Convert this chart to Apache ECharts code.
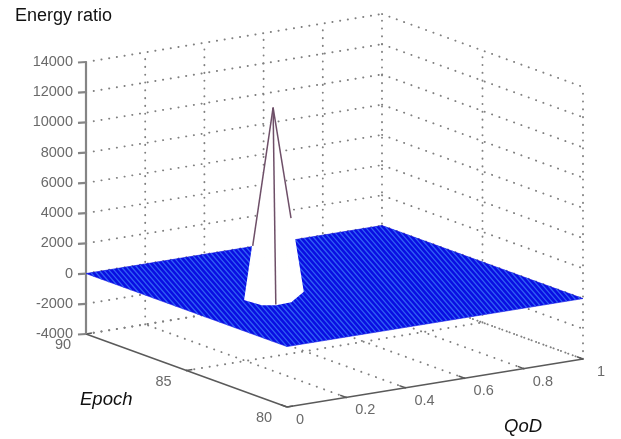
<!DOCTYPE html>
<html>
<head>
<meta charset="utf-8">
<style>html,body{margin:0;padding:0;background:#fff}#c{width:621px;height:439px;filter:blur(0.45px)}</style>
<script src="https://cdn.jsdelivr.net/npm/echarts@6/dist/echarts.min.js"></script>
</head>
<body>
<div id="c"></div>
<script>
// ---- data ----
var energyTicks = [-4000,-2000,0,2000,4000,6000,8000,10000,12000,14000];
var qodTicks = [0,0.2,0.4,0.6,0.8,1];
var qodTickLabels = ['0','0.2','0.4','0.6','0.8','1'];
var epochTicks = [80,85,90];
var epochTickLabels = ['80','85','90'];
// facet diagonals of the flat surface mesh: QoD where each one meets the Epoch 80 edge line
var meshQod = [-0.405,-0.39,-0.375,-0.36,-0.345,-0.33,-0.315,-0.3,-0.285,-0.27,-0.255,-0.24,-0.225,-0.21,-0.195,-0.18,-0.165,-0.15,-0.135,-0.12,-0.105,-0.09,-0.075,-0.06,-0.045,-0.03,-0.015,0,0.015,0.03,0.045,0.06,0.075,0.09,0.105,0.12,0.135,0.15,0.165,0.18,0.195,0.21,0.225,0.24,0.255,0.27,0.285,0.3,0.315,0.33,0.345,0.36,0.375,0.39,0.405,0.42,0.435,0.45,0.465,0.48,0.495,0.51,0.525,0.54,0.555,0.57,0.585,0.6,0.615,0.63,0.645,0.66,0.675,0.69,0.705,0.72,0.735,0.75,0.765,0.78,0.795,0.81,0.825,0.84,0.855,0.87,0.885,0.9,0.915,0.93,0.945,0.96,0.975,0.99];
var meshSkew = 0.407; // QoD change per full Epoch span along a facet diagonal
var surfaceEnergy = 0;
// spike: QoD, Epoch, Energy ratio
var peak = [0.334,85.61,12040];
var spikeBaseQod = [0.204,0.212,0.244,0.299,0.391];
var spikeBaseEpoch = [85.1,84.36,84.15,84.2,84.96];
var spikeBaseEnergy = [0,0,0,0,0];
var spikeEdgeQod = [0.240,0.244,0.368];
var spikeEdgeEpoch = [85.24,84.15,85.22];
var spikeEdgeEnergy = [3371,0,4816];

// ---- view projection of the 3D box onto the page ----
var qMin=0,qMax=1,eMin=80,eMax=90,zMin=-4000,zMax=14000;
var O=[287,407],QV=[296,-48],EV=[-201,-73],ZH=272;
function proj(q,e,z){
  var a=(q-qMin)/(qMax-qMin),b=(e-eMin)/(eMax-eMin),c=(z-zMin)/(zMax-zMin);
  return [O[0]+a*QV[0]+b*EV[0],O[1]+a*QV[1]+b*EV[1]-c*ZH];
}

// dotted box grid
var gridSegs=[];
energyTicks.forEach(function(z){
  gridSegs.push([proj(qMin,eMax,z),proj(qMax,eMax,z)]);
  gridSegs.push([proj(qMax,eMax,z),proj(qMax,eMin,z)]);
});
qodTicks.forEach(function(q){
  if(q>qMin) gridSegs.push([proj(q,eMax,zMin),proj(q,eMax,zMax)]);
  if(q>qMin) gridSegs.push([proj(q,eMin,zMin),proj(q,eMax,zMin)]);
});
epochTicks.forEach(function(e){
  if(e<eMax) gridSegs.push([proj(qMax,e,zMin),proj(qMax,e,zMax)]);
  if(e>eMin) gridSegs.push([proj(qMin,e,zMin),proj(qMax,e,zMin)]);
});

// axes lines + ticks
var zAxisSeg=[[proj(qMin,eMax,zMin),proj(qMin,eMax,zMax)]];
var floorAxisSegs=[[proj(qMin,eMax,zMin),proj(qMin,eMin,zMin)],[proj(qMin,eMin,zMin),proj(qMax,eMin,zMin)]];
qodTicks.forEach(function(q){floorAxisSegs.push([proj(q,eMin,zMin),proj(q,eMin+0.3,zMin)]);});
epochTicks.forEach(function(e){floorAxisSegs.push([proj(qMin,e,zMin),proj(qMin+0.02,e,zMin)]);});
energyTicks.forEach(function(z){var p=proj(qMin,eMax,z);zAxisSeg.push([[p[0]-8,p[1]+0.5],p]);});

// surface
var surfacePoly=[[proj(qMin,eMin,surfaceEnergy),proj(qMax,eMin,surfaceEnergy),proj(qMax,eMax,surfaceEnergy),proj(qMin,eMax,surfaceEnergy)]];
var meshSegs=meshQod.map(function(c){
  // clip each diagonal to the surface rectangle
  var b0=Math.max(0,-c/meshSkew), b1=Math.min(1,(1-c)/meshSkew);
  return [proj(c+b0*meshSkew,eMin+b0*(eMax-eMin),surfaceEnergy),proj(c+b1*meshSkew,eMin+b1*(eMax-eMin),surfaceEnergy)];
});

// spike faces
var apex=proj(peak[0],peak[1],peak[2]);
var spikeFaces=[];
for(var i=0;i<spikeBaseQod.length-1;i++){
  spikeFaces.push([apex,proj(spikeBaseQod[i],spikeBaseEpoch[i],spikeBaseEnergy[i]),proj(spikeBaseQod[i+1],spikeBaseEpoch[i+1],spikeBaseEnergy[i+1])]);
}
var spikeEdges=spikeEdgeQod.map(function(q,i){return [apex,proj(q,spikeEdgeEpoch[i],spikeEdgeEnergy[i])];});

// text
var texts=[];
energyTicks.forEach(function(z){var p=proj(qMin,eMax,z);texts.push({x:p[0]-13,y:p[1],t:String(z),a:'right',c:'#6a6a6a',s:14.5});});
epochTicks.forEach(function(e,i){var p=proj(qMin,e,zMin);texts.push({x:p[0]-23,y:p[1]+11,t:epochTickLabels[i],a:'center',c:'#6a6a6a',s:14.5});});
qodTicks.forEach(function(q,i){var p=proj(q,eMin,zMin);texts.push({x:p[0]+9+(i==5?5:0),y:p[1]+13,t:qodTickLabels[i],a:'left',c:'#6a6a6a',s:14.5});});
texts.push({x:15,y:16,t:'Energy ratio',a:'left',c:'#111',s:18});
texts.push({x:80,y:400,t:'Epoch',a:'left',c:'#111',s:18.5,i:1});
texts.push({x:504,y:427,t:'QoD',a:'left',c:'#111',s:18.5,i:1});

function segSeries(name,segs,style,z){
  return {name:name,type:'custom',coordinateSystem:'cartesian2d',silent:true,z:z,animation:false,clip:false,
    data:segs.map(function(s,i){return [s[0][0],s[0][1],s[1][0],s[1][1]];}),
    renderItem:function(p,api){
      var a=api.coord([api.value(0),api.value(1)]),b=api.coord([api.value(2),api.value(3)]);
      return {type:'line',shape:{x1:a[0],y1:a[1],x2:b[0],y2:b[1]},style:style};
    }};
}
function polySeries(name,polys,style,z){
  return {name:name,type:'custom',coordinateSystem:'cartesian2d',silent:true,z:z,animation:false,clip:false,
    data:polys.map(function(s,i){return [s[0][0],s[0][1],i];}),
    renderItem:function(p,api){
      var pts=polys[p.dataIndex].map(function(q){return api.coord(q);});
      return {type:'polygon',shape:{points:pts},style:style};
    }};
}
var chart=echarts.init(document.getElementById('c'),null,{renderer:'canvas'});
chart.setOption({
  backgroundColor:'#ffffff',
  animation:false,
  grid:{left:0,right:0,top:0,bottom:0},
  xAxis:{type:'value',min:0,max:621,show:false},
  yAxis:{type:'value',min:0,max:439,inverse:true,show:false},
  series:[
    segSeries('grid',gridSegs,{stroke:'#808080',lineWidth:1.9,lineDash:[0.2,7.6],lineCap:'round'},1),
    segSeries('floorAxes',floorAxisSegs,{stroke:'#5a5a5a',lineWidth:1.5},2),
    segSeries('energyAxis',zAxisSeg,{stroke:'#858585',lineWidth:2.2},2),
    polySeries('surface',surfacePoly,{fill:'#0a0ee2',stroke:'#0a0ee2',lineWidth:0.6},3),
    segSeries('mesh',meshSegs,{stroke:'#3060f4',lineWidth:1.3},4),
    polySeries('spike',spikeFaces,{fill:'#ffffff',stroke:'#ffffff',lineWidth:1.4,lineJoin:'round'},5),
    segSeries('spikeEdges',spikeEdges,{stroke:'#6e4f68',lineWidth:1.5},6),
    {name:'text',type:'custom',coordinateSystem:'cartesian2d',silent:true,z:7,animation:false,clip:false,
      data:texts.map(function(t){return [t.x,t.y];}),
      renderItem:function(p,api){
        var t=texts[p.dataIndex],c=api.coord([api.value(0),api.value(1)]);
        return {type:'text',x:c[0],y:c[1],style:{text:t.t,fill:t.c,textAlign:t.a,textVerticalAlign:'middle',
          font:(t.i?'italic ':'')+t.s+'px "Liberation Sans", Arial, sans-serif'}};
      }}
  ]
});
</script>
</body>
</html>
